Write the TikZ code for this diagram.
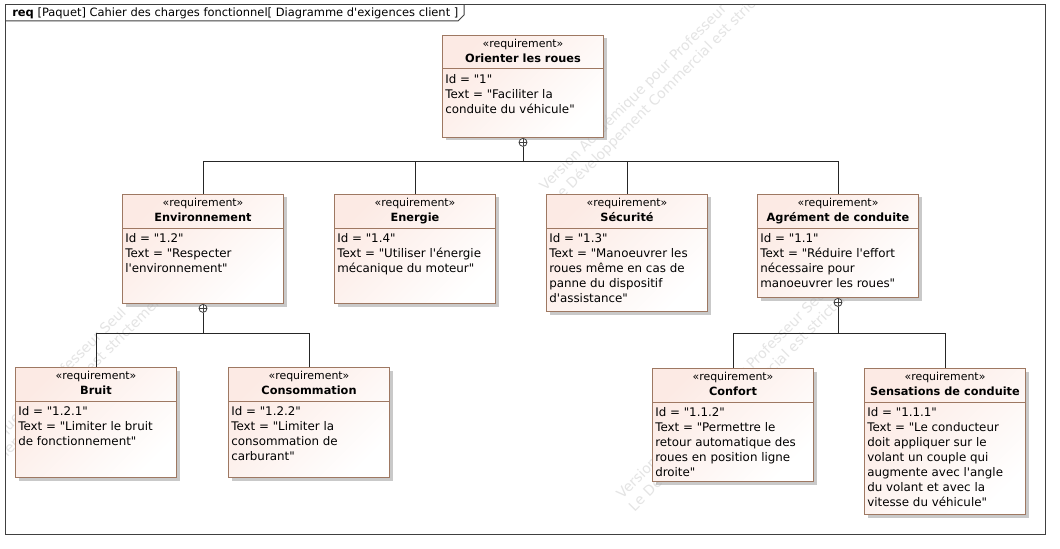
\documentclass[tikz,border=0pt]{standalone}
\usepackage{fontspec}
\usetikzlibrary{positioning,shadows}
\newfontfamily\umlfont{DejaVu Sans}
\definecolor{reqline}{RGB}{158,120,98}
\definecolor{reqpink}{RGB}{252,234,228}
\definecolor{frameline}{RGB}{64,64,64}
\definecolor{wmgray}{RGB}{228,228,228}

\begin{document}
\begin{tikzpicture}[x=0.75pt,y=-0.75pt,
	font=\umlfont\fontsize{8.9}{11.25}\selectfont,
	reqbox/.style={draw=reqline,line width=0.75pt,minimum width=120.75pt,inner sep=0pt,anchor=north west,
		top color=reqpink,bottom color=white,shading angle=45,
		drop shadow={shadow xshift=2.25pt,shadow yshift=-2.25pt,fill=black!35,opacity=.6}},
	stereo/.style={anchor=base,inner sep=0pt,font=\umlfont\fontsize{8.2}{10}\selectfont},
	reqtitle/.style={anchor=base,inner sep=0pt,font=\umlfont\fontsize{8.5}{10}\selectfont\bfseries},
	reqtext/.style={anchor=north west,align=left,inner sep=0pt},
	link/.style={draw=black!85,line width=0.75pt},
	contain/.style={circle,draw=black!75,fill=white,line width=0.6pt,minimum size=6pt,inner sep=0pt,
		path picture={\draw[black!75,line width=0.6pt] (path picture bounding box.north)--(path picture bounding box.south)
			(path picture bounding box.west)--(path picture bounding box.east);}},
	wmark/.style={rotate=45,anchor=north west,align=left,inner sep=0pt,text=wmgray,font=\umlfont\fontsize{10.5}{13}\selectfont}]
	
	\fill[white] (0,0) rectangle (1060,549);
	\useasboundingbox (0,0) rectangle (1060,549);
	
	% filigrane
	\begin{scope}
		\clip (5,5) rectangle (1045,534);
		\node foreach \wx/\wy in {537/184,614/492,-88/512}[wmark] at (\wx,\wy)
			{Version Académique pour Professeur Seul\\Le Développement Commercial est strictement interdit};
	\end{scope}
	
	% cadre du diagramme
	\draw[frameline,line width=0.75pt] (5,5) rectangle (1045,534);
	\draw[frameline,line width=0.75pt] (5,21)--(458,21)--(464,15)--(464,5);
	\node[anchor=base west,inner sep=0pt,font=\umlfont\fontsize{8.6}{10}\selectfont] (hdr) at (12,17) {\textbf{req} [Paquet] Cahier des charges fonctionnel[ Diagramme d'exigences client ]};
	
	% exigences
	\foreach \nm/\bx/\by/\bh/\ttl/\rid/\rtext in {
		root/442/35/102/{Orienter les roues}/1/{Faciliter la\\conduite du véhicule},
		env/122/194/109/{Environnement}/1.2/{Respecter\\l'environnement},
		ener/334/194/109/{Energie}/1.4/{Utiliser l'énergie\\mécanique du moteur},
		secu/546/194/117/{Sécurité}/1.3/{Manoeuvrer les\\roues même en cas de\\panne du dispositif\\d'assistance},
		agr/757/194/103/{Agrément de conduite}/1.1/{Réduire l'effort\\nécessaire pour\\manoeuvrer les roues},
		bruit/15/367/110/{Bruit}/1.2.1/{Limiter le bruit\\de fonctionnement},
		conso/228/367/110/{Consommation}/1.2.2/{Limiter la\\consommation de\\carburant},
		conf/652/368/113/{Confort}/1.1.2/{Permettre le\\retour automatique des\\roues en position ligne\\droite},
		sens/864/368/146/{Sensations de conduite}/1.1.1/{Le conducteur\\doit appliquer sur le\\volant un couple qui\\augmente avec l'angle\\du volant et avec la\\vitesse du véhicule}}{
		\node[reqbox,minimum height=\bh*0.75pt] (\nm) at (\bx,\by) {};
		\node[stereo] at ([yshift=-9.4pt]\nm.north) {«requirement»};
		\node[reqtitle] at ([yshift=-20.6pt]\nm.north) {\ttl};
		\draw[reqline,line width=0.75pt] ([yshift=-25.5pt]\nm.north west)--([yshift=-25.5pt]\nm.north east);
		\node[reqtext] at ([xshift=2.25pt,yshift=-29.6pt]\nm.north west) {Id = "\rid"\\Text = "\rtext"};
	}
	
	% liens de composition
	\node[contain,below=0pt of root] (c0) {};
	\node[contain,below=0pt of env] (c1) {};
	\node[contain,below=0pt of agr] (c2) {};
	\foreach \c in {env,ener,secu,agr}
		\draw[link] (c0.south)--++(0,15)-|(\c.north);
	\foreach \c in {bruit,conso}
		\draw[link] (c1.south)--++(0,21)-|(\c.north);
	\foreach \c in {conf,sens}
		\draw[link] (c2.south)--++(0,27)-|(\c.north);
\end{tikzpicture}
\end{document}
